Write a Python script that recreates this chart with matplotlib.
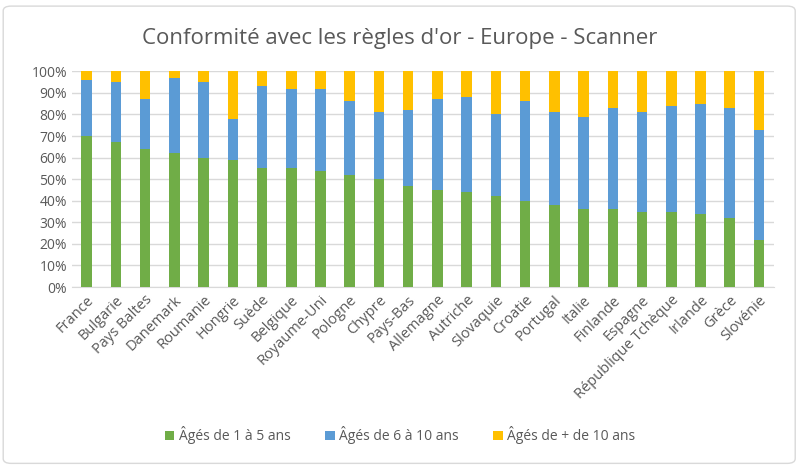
import numpy as np
import matplotlib
matplotlib.use("Agg")
import matplotlib.pyplot as plt
from matplotlib.patches import FancyBboxPatch
from matplotlib.ticker import PercentFormatter

plt.rcParams['font.family'] = ['Open Sans', 'DejaVu Sans']

pays = ["France", "Bulgarie", "Pays Baltes", "Danemark", "Roumanie", "Hongrie", "Suède",
        "Belgique", "Royaume-Uni", "Pologne", "Chypre", "Pays-Bas", "Allemagne", "Autriche",
        "Slovaquie", "Croatie", "Portugal", "Italie", "Finlande", "Espagne",
        "République Tchèque", "Irlande", "Grèce", "Slovénie"]
ages_1_5 = [70, 67, 64, 62, 60, 59, 55, 55, 54, 52, 50, 47, 45, 44, 42, 40, 38, 36, 36, 35, 35, 34, 32, 22]
ages_6_10 = [26, 28, 23, 35, 35, 19, 38, 37, 38, 34, 31, 35, 42, 44, 38, 46, 43, 43, 47, 46, 49, 51, 51, 51]
ages_10_plus = [4, 5, 13, 3, 5, 22, 7, 8, 8, 14, 19, 18, 13, 12, 20, 14, 19, 21, 17, 19, 16, 15, 17, 27]

series = [("Âgés de 1 à 5 ans", ages_1_5, "#70AD47"),
          ("Âgés de 6 à 10 ans", ages_6_10, "#5B9BD5"),
          ("Âgés de + de 10 ans", ages_10_plus, "#FFC000")]

fig = plt.figure(figsize=(8, 4.69), dpi=100)
ax = fig.add_axes([0.09, 0.388, 0.877, 0.46])

x = np.arange(len(pays))
bas = np.zeros(len(pays))
for nom, vals, couleur in series:
    ax.bar(x, vals, bottom=bas, width=0.36, color=couleur, label=nom, zorder=3)
    bas = bas + np.array(vals)

ax.set_ylim(0, 100)
ax.set_xlim(-0.5, len(pays) - 0.5)
ax.set_yticks(np.arange(0, 101, 10))
ax.yaxis.set_major_formatter(PercentFormatter(decimals=0))
ax.grid(axis="y", color="#D9D9D9", linewidth=1, zorder=0)
for s in ["top", "right", "left"]:
    ax.spines[s].set_visible(False)
ax.spines["bottom"].set_color("#D9D9D9")
ax.tick_params(axis="both", length=0, colors="#595959", labelsize=10)
ax.tick_params(axis="x", labelsize=10.5, pad=4)
ax.set_xticks(x)
ax.set_xticklabels(pays, rotation=45, ha="right", rotation_mode="anchor")

fig.suptitle("Conformité avec les règles d'or - Europe - Scanner", y=0.94,
             fontsize=16, color="#595959")
fig.legend(loc="center", bbox_to_anchor=(0.5, 0.072), ncol=3, frameon=False,
           fontsize=10, handlelength=0.7, handleheight=0.7, handletextpad=0.3,
           columnspacing=2.5, labelcolor="#595959")

cadre = FancyBboxPatch((0.004, 0.012), 0.99, 0.975, boxstyle="round,pad=0,rounding_size=0.01",
                       transform=fig.transFigure, fill=False, edgecolor="#D9D9D9", linewidth=1)
fig.patches.append(cadre)

fig.savefig("out.png", dpi=100)
